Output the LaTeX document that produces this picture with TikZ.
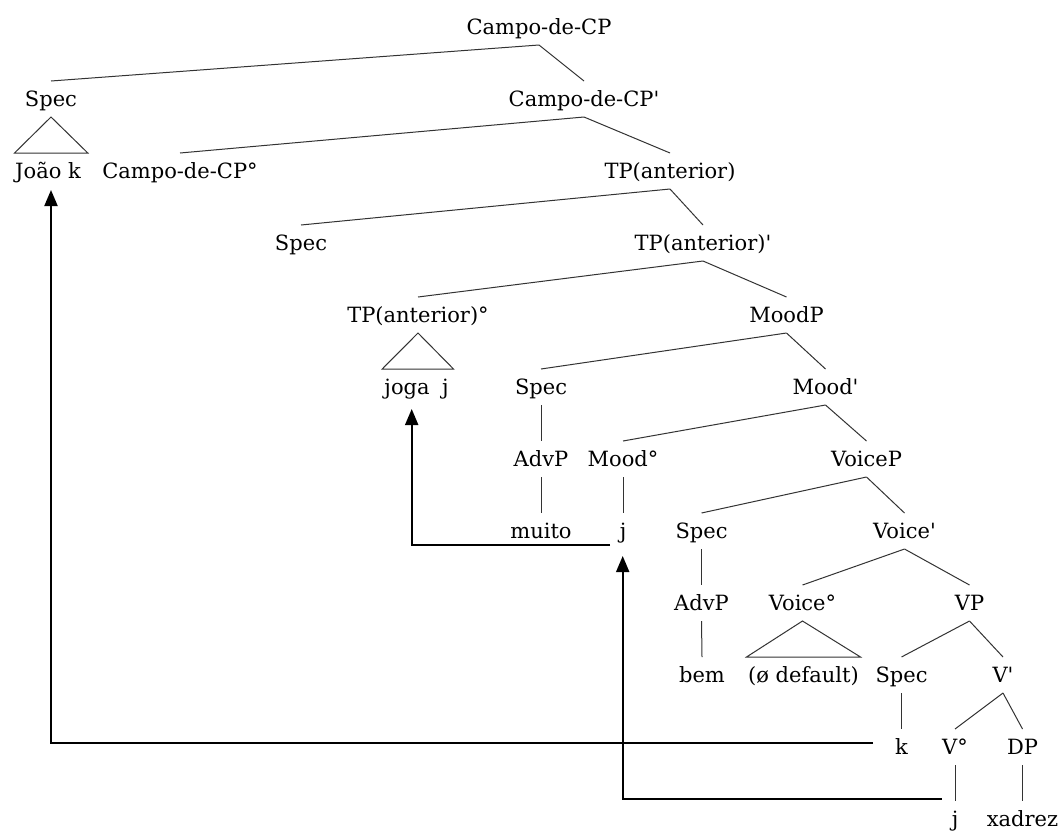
\documentclass[tikz,border=0pt]{standalone}
\usepackage{fontspec}
\setmainfont{DejaVu Serif}
\usetikzlibrary{arrows.meta}
\newcommand\treeedge[2]{\draw[br] ([yshift=-10.5pt]#1.base) -- ([yshift=25.5pt]#2.base);}
\newcommand\treetri[4]{\draw[br] ([yshift=-10.5pt]#1.base) -- ([xshift=-#3pt,yshift=25.5pt]#2.base) -- ([xshift=#4pt,yshift=25.5pt]#2.base) -- cycle;}
\newcommand\pr{\textquotesingle}
\begin{document}
\begin{tikzpicture}[x=1pt,y=-1pt,
  lbl/.style={anchor=base,inner sep=0pt,font=\fontsize{21}{25}\selectfont},
  br/.style={draw=black!80,line width=1pt,line join=miter},
  mv/.style={draw=black,line width=2pt,-{Triangle[width=13pt,length=16pt]}}]
\fill[white] (0,0) rectangle (1064,830);
\path[use as bounding box] (0,0) rectangle (1064,830);
% row 1
\node[lbl] (cp) at (539,34.5) {Campo-de-CP};
% row 2
\node[lbl] (spec2) at (51,106.5) {Spec};
\node[lbl] (cpb) at (584,106.5) {Campo-de-CP\pr};
% row 3
\node[lbl] (joao) at (48,178.5) {João k};
\node[lbl] (cpdeg) at (180,178.5) {Campo-de-CP°};
\node[lbl] (tpa) at (670,178.5) {TP(anterior)};
% row 4
\node[lbl] (spec4) at (301,250.5) {Spec};
\node[lbl] (tpab) at (703,250.5) {TP(anterior)\pr};
% row 5
\node[lbl] (tpadeg) at (418,322.5) {TP(anterior)°};
\node[lbl] (moodp) at (786.5,322.5) {MoodP};
% row 6
\node[lbl] (joga) at (416.6,394.5) {joga\hspace{0.6em}j};
\node[lbl] (spec6) at (541,394.5) {Spec};
\node[lbl] (moodb) at (825.5,394.5) {Mood\pr};
% row 7
\node[lbl] (advp7) at (541,466.5) {AdvP};
\node[lbl] (mooddeg) at (623,466.5) {Mood°};
\node[lbl] (voicep) at (866.5,466.5) {VoiceP};
% row 8
\node[lbl] (muito) at (541,538.5) {muito};
\node[lbl] (j8) at (623,538.5) {j};
\node[lbl] (spec8) at (701.5,538.5) {Spec};
\node[lbl] (voiceb) at (904.5,538.5) {Voice\pr};
% row 9
\node[lbl] (advp9) at (701.5,610.5) {AdvP};
\node[lbl] (voicedeg) at (802.5,610.5) {Voice°};
\node[lbl] (vp) at (969.5,610.5) {VP};
% row 10
\node[lbl] (bem) at (702,682.5) {bem};
\node[lbl] (odef) at (803.5,682.5) {(ø default)};
\node[lbl] (spec10) at (901.5,682.5) {Spec};
\node[lbl] (vb) at (1003,682.5) {V\pr};
% row 11
\node[lbl] (k) at (901.5,754.5) {k};
\node[lbl] (vdeg) at (955,754.5) {V°};
\node[lbl] (dp) at (1022.5,754.5) {DP};
% row 12
\node[lbl] (j12) at (955,826.5) {j};
\node[lbl] (xadrez) at (1022.5,826.5) {xadrez};
% branches
\treeedge{cp}{spec2}
\treeedge{cp}{cpb}
\treeedge{cpb}{cpdeg}
\treeedge{cpb}{tpa}
\treeedge{tpa}{spec4}
\treeedge{tpa}{tpab}
\treeedge{tpab}{tpadeg}
\treeedge{tpab}{moodp}
\treeedge{moodp}{spec6}
\treeedge{moodp}{moodb}
\treeedge{spec6}{advp7}
\treeedge{advp7}{muito}
\treeedge{moodb}{mooddeg}
\treeedge{moodb}{voicep}
\treeedge{mooddeg}{j8}
\treeedge{voicep}{spec8}
\treeedge{voicep}{voiceb}
\treeedge{spec8}{advp9}
\treeedge{advp9}{bem}
\treeedge{voiceb}{voicedeg}
\treeedge{voiceb}{vp}
\treeedge{vp}{spec10}
\treeedge{vp}{vb}
\treeedge{spec10}{k}
\treeedge{vb}{vdeg}
\treeedge{vb}{dp}
\treeedge{vdeg}{j12}
\treeedge{dp}{xadrez}
% triangles
\treetri{spec2}{joao}{33.5}{39.8}
\treetri{tpadeg}{joga}{34.4}{36.9}
\treetri{voicedeg}{odef}{57}{57}
% movement arrows
\draw[mv] ([xshift=-28.4pt,yshift=11.2pt]k.base) -| ([xshift=3pt,yshift=-11.5pt]joao.base);
\draw[mv] ([xshift=-13pt,yshift=-6.5pt]j8.base) -| ([xshift=-4.9pt,yshift=-14.5pt]joga.base);
\draw[mv] ([xshift=-13.3pt,yshift=27.2pt]j12.base) -| ([xshift=-0.3pt,yshift=-17.5pt]j8.base);
\end{tikzpicture}
\end{document}
